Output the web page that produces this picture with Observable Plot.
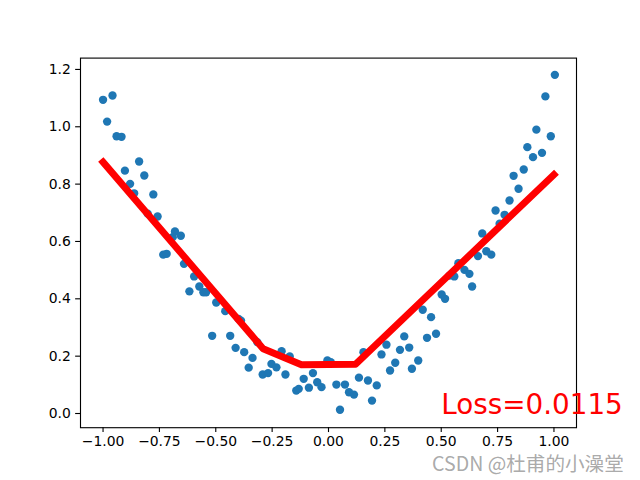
<!DOCTYPE html>
<html>
<head>
<meta charset="utf-8">
<script src="https://cdn.jsdelivr.net/npm/d3@7"></script>
<script src="https://cdn.jsdelivr.net/npm/@observablehq/plot@0.6"></script>
<style>
  html, body { margin: 0; padding: 0; background: #fff; }
  #wrap { position: relative; width: 640px; height: 480px; }
  #wm {
    position: absolute; left: 432px; top: 453px;
    font-family: "Noto Sans CJK SC", "DejaVu Sans", sans-serif;
    font-size: 19.6px; line-height: 19px; height: 19px; color: rgba(160,160,160,0.9); white-space: nowrap;
    text-shadow: 0 0 1px #fff;
  }
</style>
</head>
<body>
<div id="wrap"><div id="wm">CSDN @杜甫的小澡堂</div></div>
<script>
// scatter points
const xs = [-1.000,-0.982,-0.958,-0.940,-0.918,-0.903,-0.880,-0.862,-0.840,-0.817,
  -0.802,-0.777,-0.758,-0.733,-0.718,-0.691,-0.681,-0.655,-0.641,-0.617,
  -0.596,-0.573,-0.555,-0.543,-0.516,-0.498,-0.458,-0.436,-0.412,-0.399,
  -0.388,-0.374,-0.354,-0.337,-0.316,-0.292,-0.268,-0.253,-0.231,-0.208,
  -0.191,-0.172,-0.143,-0.132,-0.110,-0.087,-0.069,-0.050,-0.031,-0.005,
  0.010,0.035,0.051,0.073,0.091,0.113,0.135,0.155,0.175,0.193,
  0.214,0.235,0.257,0.273,0.296,0.317,0.336,0.358,0.370,0.398,
  0.418,0.437,0.455,0.477,0.502,0.517,0.536,0.558,0.576,0.603,
  0.625,0.637,0.663,0.682,0.700,0.722,0.741,0.759,0.781,0.803,
  0.821,0.843,0.866,0.882,0.907,0.922,0.947,0.962,0.986,1.004];
const ys = [1.094,1.018,1.109,0.967,0.965,0.847,0.801,0.768,0.879,0.830,
  0.697,0.764,0.687,0.554,0.557,0.615,0.635,0.620,0.522,0.426,
  0.478,0.443,0.423,0.423,0.271,0.387,0.357,0.271,0.229,0.330,
  0.324,0.214,0.160,0.194,0.249,0.136,0.141,0.173,0.161,0.217,
  0.136,0.199,0.080,0.086,0.121,0.090,0.141,0.109,0.092,0.185,
  0.179,0.101,0.013,0.101,0.074,0.066,0.125,0.214,0.115,0.045,
  0.098,0.206,0.240,0.150,0.177,0.222,0.269,0.230,0.156,0.185,
  0.362,0.264,0.336,0.278,0.415,0.400,0.481,0.478,0.524,0.501,
  0.487,0.443,0.549,0.628,0.566,0.554,0.708,0.662,0.693,0.743,
  0.829,0.784,0.851,0.929,0.894,0.990,0.909,1.106,0.967,1.181];

// fitted line vertices
const lineX = [-1.0, -0.29, -0.12, 0.12, 1.0];
const lineY = [0.877, 0.226, 0.170, 0.172, 0.833];

// tick labels
const xTicks = [-1.00, -0.75, -0.50, -0.25, 0.00, 0.25, 0.50, 0.75, 1.00];
const yTicks = [0.0, 0.2, 0.4, 0.6, 0.8, 1.0, 1.2];

// loss annotation
const lossText = ["Loss=0.0115"];
const lossX = [0.5];
const lossY = [0.0];

const points = xs.map((x, i) => ({x, y: ys[i]}));
const line = lineX.map((x, i) => ({x, y: lineY[i]}));
const loss = lossText.map((t, i) => ({t, x: lossX[i], y: lossY[i]}));

const chart = Plot.plot({
  width: 640,
  height: 480,
  marginLeft: 80,
  marginRight: 64,
  marginTop: 57.6,
  marginBottom: 52.8,
  style: {fontFamily: "DejaVu Sans", fontSize: "13.9px", color: "black", background: "white", overflow: "visible"},
  x: {domain: [-1.1, 1.1]},
  y: {domain: [-0.0495, 1.2395]},
  marks: [
    Plot.dot(points, {x: "x", y: "y", r: 4.17, fill: "#1f77b4", stroke: "none"}),
    Plot.line(line, {x: "x", y: "y", stroke: "red", strokeWidth: 6.94, strokeLinecap: "square", strokeLinejoin: "round"}),
    Plot.frame({stroke: "black", strokeWidth: 1.11}),
    Plot.axisX(xTicks, {tickFormat: d3.format(".2f"), tickSize: 4.86, tickPadding: 3.5, strokeWidth: 1.11, label: null, fontSize: 13.9}),
    Plot.axisY(yTicks, {tickFormat: d3.format(".1f"), tickSize: 4.86, tickPadding: 4.86, strokeWidth: 1.11, label: null, fontSize: 13.9}),
    Plot.text(loss, {x: "x", y: "y", text: "t", fill: "red", fontSize: 27.8, textAnchor: "start", lineAnchor: "bottom", fontFamily: "DejaVu Sans"})
  ]
});
document.getElementById("wrap").prepend(chart);
</script>
</body>
</html>
